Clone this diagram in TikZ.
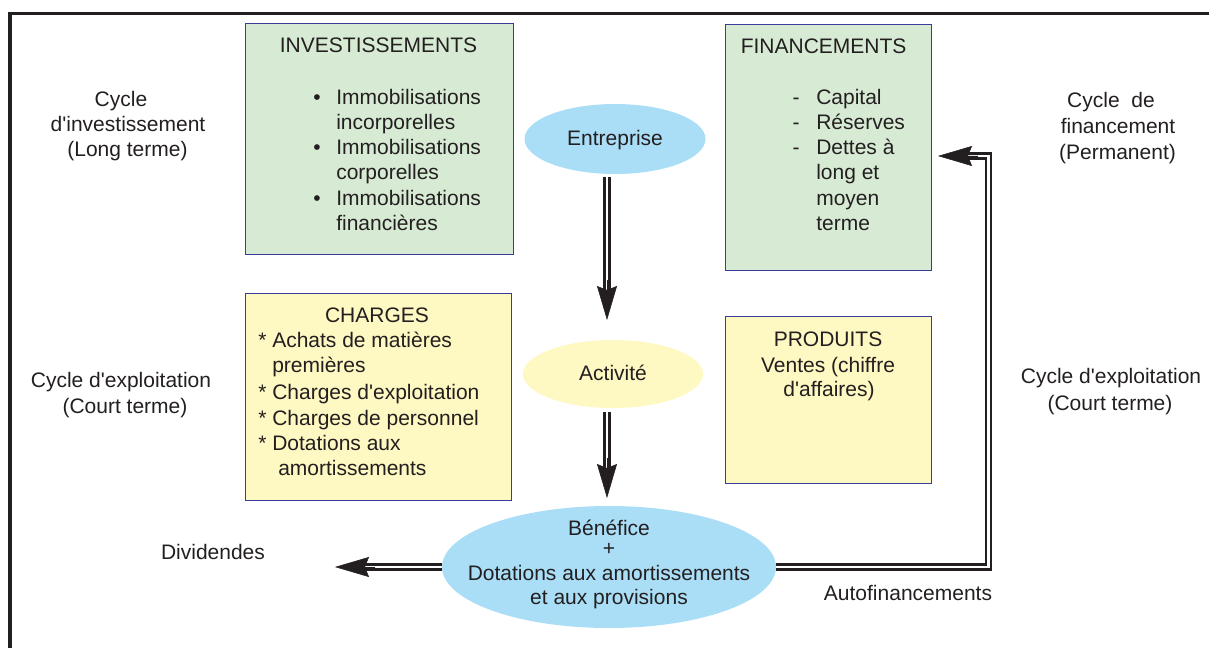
\documentclass[tikz,border=0pt]{standalone}
\usepackage{fontspec}
\setmainfont{Liberation Sans}[Ligatures=TeXOff]
\usetikzlibrary{arrows.meta,calc,shapes.geometric}
\definecolor{ink}{HTML}{231F20}
\definecolor{boxblue}{HTML}{3B3B9B}
\definecolor{greenfill}{HTML}{D7EBD4}
\definecolor{yellowfill}{HTML}{FEF8C2}
\definecolor{ellblue}{HTML}{A9DEF6}
\newcommand\diagfont{\fontsize{15.75}{18.9}\selectfont}
\begin{document}
\begin{tikzpicture}[x=0.75pt,y=-0.75pt,
  frameline/.style={draw=ink, line width=2.6pt},
  panel/.style={draw=boxblue, line width=1.1pt, rectangle, inner sep=0pt, anchor=north west},
  gpanel/.style={panel, fill=greenfill},
  ypanel/.style={panel, fill=yellowfill},
  oval/.style={ellipse, inner sep=0pt, draw=none},
  lbl/.style={font=\diagfont, text=ink, inner sep=0pt, anchor=base west},
  clbl/.style={lbl, anchor=base},
  dbl/.style={draw=ink, line width=1.8pt, double=white, double distance=2.2pt},
  head/.style={draw=ink, fill=ink, line width=0.4pt, -{Stealth[length=25.5pt,width=15pt,inset=3pt]}},
]
\useasboundingbox (0,0) rectangle (1209,648);

% frame
\coordinate (fbl) at (10,648);
\coordinate (ftl) at (10,13.5);
\coordinate (ftr) at (1209,13.5);
\draw[frameline] (fbl) -- (ftl) -- (ftr);

% panels
\node[gpanel, minimum width=201pt, minimum height=173.25pt] (inv) at (245,23) {};
\node[gpanel, minimum width=154.5pt, minimum height=184.5pt] (fin) at (725,24) {};
\node[ypanel, minimum width=199.5pt, minimum height=155.25pt] (chg) at (245,293) {};
\node[ypanel, minimum width=154.5pt, minimum height=125.25pt] (prd) at (725,316) {};

% ellipses
\node[oval, fill=ellblue, minimum width=135.75pt, minimum height=52.5pt] (ent) at (615,139) {};
\node[oval, fill=yellowfill, minimum width=135pt, minimum height=51pt] (act) at (613,374) {};
\node[oval, fill=ellblue, minimum width=250.5pt, minimum height=91.5pt] (ben) at (609,567) {};

% investissements text
\node[clbl] (invt) at (378.5,53) {INVESTISSEMENTS};
\node[clbl] (ib1) at (317,105) {•};
\node[lbl] (i1) at (336,105) {Immobilisations};
\node[lbl] (i2) at (336,130) {incorporelles};
\node[clbl] (ib2) at (317,155) {•};
\node[lbl] (i3) at (336,155) {Immobilisations};
\node[lbl] (i4) at (336,180) {corporelles};
\node[clbl] (ib3) at (317,206) {•};
\node[lbl] (i5) at (336,206) {Immobilisations};
\node[lbl] (i6) at (336,231) {financières};

% financements text
\node[lbl] (fint) at (740.5,54) {FINANCEMENTS};
\node[clbl] (fd1) at (796,105) {-};
\node[lbl] (f1) at (816,105) {Capital};
\node[clbl] (fd2) at (796,130) {-};
\node[lbl] (f2) at (816,130) {Réserves};
\node[clbl] (fd3) at (796,155) {-};
\node[lbl] (f3) at (816,155) {Dettes à};
\node[lbl] (f4) at (816,180) {long et};
\node[lbl] (f5) at (816,206) {moyen};
\node[lbl] (f6) at (816,231) {terme};

% charges text
\node[clbl] (chgt) at (377,323) {CHARGES};
\node[lbl] (c1) at (258,348) {* Achats de matières};
\node[lbl] (c2) at (272,373) {premières};
\node[lbl] (c3) at (258,399) {* Charges d'exploitation};
\node[lbl] (c4) at (258,425) {* Charges de personnel};
\node[lbl] (c5) at (258,450) {* Dotations aux};
\node[lbl] (c6) at (278,475) {amortissements};

% produits text
\node[clbl] (prdt) at (828,346) {PRODUITS};
\node[clbl] (p1) at (828,372) {Ventes (chiffre};
\node[clbl] (p2) at (829,396) {d'affaires)};

% ellipse texts
\node[clbl] (entt) at (615,146) {Entreprise};
\node[clbl] (actt) at (613,380) {Activité};
\node[clbl] (b1) at (609,535) {Bénéfice};
\node[clbl] (b2) at (609,555) {+};
\node[clbl] (b3) at (609,580) {Dotations aux amortissements};
\node[clbl] (b4) at (609,604) {et aux provisions};

% side labels
\node[clbl] (l1) at (121,107) {Cycle};
\node[clbl] (l2) at (128,132) {d'investissement};
\node[clbl] (l3) at (127.5,157) {(Long terme)};
\node[clbl] (l4) at (121,387) {Cycle d'exploitation};
\node[clbl] (l5) at (125,413) {(Court terme)};
\node[clbl] (r1) at (1111,108) {Cycle\ \ de};
\node[clbl] (r2) at (1118,134) {financement};
\node[clbl] (r3) at (1117.5,160) {(Permanent)};
\node[clbl] (r4) at (1111,383) {Cycle d'exploitation};
\node[clbl] (r5) at (1110,410) {(Court terme)};
\node[clbl] (div) at (213,559) {Dividendes};
\node[clbl] (auto) at (908,600) {Autofinancements};

% connectors
\coordinate (t1) at (607,320);
\coordinate (t2) at (607,498);
\coordinate (t3) at (335,567);
\coordinate (t4) at (938,156);
\coordinate (corner) at (988.5,156);

\draw[dbl] ($(t1 |- ent.south)+(0,3)$) -- ($(t1)+(0,-27)$);
\draw[head] ($(t1)+(0,-40)$) -- (t1);

\draw[dbl] ($(t2 |- act.south)+(0,4)$) -- ($(t2)+(0,-27)$);
\draw[head] ($(t2)+(0,-40)$) -- (t2);

\draw[dbl] (ben.west) -- ($(t3)+(27,0)$);
\draw[head] ($(t3)+(40,0)$) -- (t3);

\draw[dbl] (ben.east) -| (corner) -- ($(t4)+(27,0)$);
\draw[head] ($(t4)+(40,0)$) -- (t4);
\end{tikzpicture}
\end{document}
